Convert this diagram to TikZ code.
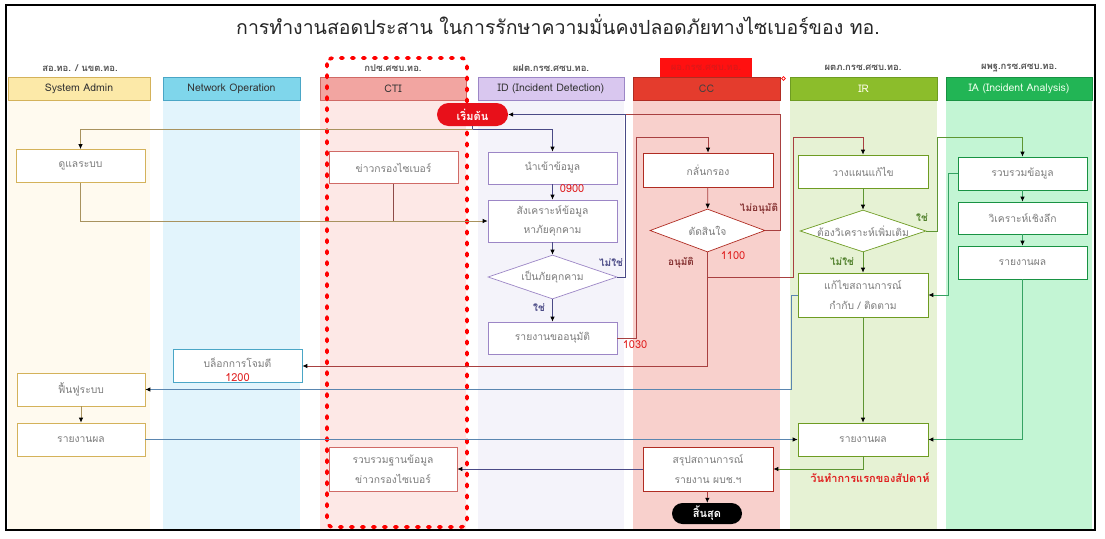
\documentclass[tikz,border=0pt]{standalone}
\usepackage{fontspec}
\setmainfont{Loma}[Script=Thai]
\usetikzlibrary{arrows.meta,shapes.geometric,shapes.misc,calc}

% lane colours: background, header fill, header border, box border, connector
\definecolor{saBg}{HTML}{FFFAEF}\definecolor{saHd}{HTML}{FCE9A8}\definecolor{saBd}{HTML}{D4B25A}\definecolor{saLn}{HTML}{A8925E}
\definecolor{noBg}{HTML}{E2F4FC}\definecolor{noHd}{HTML}{7FD6EB}\definecolor{noBd}{HTML}{4AA6C6}\definecolor{noLn}{HTML}{5A86B0}
\definecolor{ctBg}{HTML}{FDE8E6}\definecolor{ctHd}{HTML}{F2A5A1}\definecolor{ctBd}{HTML}{D06A66}\definecolor{ctLn}{HTML}{8E4A48}
\definecolor{idBg}{HTML}{F4F3FA}\definecolor{idHd}{HTML}{D9C7EF}\definecolor{idBd}{HTML}{9C86C6}\definecolor{idLn}{HTML}{4A4A86}
\definecolor{ccBg}{HTML}{F8D0CC}\definecolor{ccHd}{HTML}{E43C2D}\definecolor{ccBd}{HTML}{B02C22}\definecolor{ccLn}{HTML}{A84040}
\definecolor{irBg}{HTML}{E6F2D4}\definecolor{irHd}{HTML}{8CBD2B}\definecolor{irBd}{HTML}{6E9C22}\definecolor{irLn}{HTML}{5E9632}
\definecolor{iaBg}{HTML}{C3F5D4}\definecolor{iaHd}{HTML}{22B555}\definecolor{iaBd}{HTML}{189243}\definecolor{iaLn}{HTML}{35A263}
\definecolor{boxTxt}{HTML}{7C7C7C}
\definecolor{grpTxt}{HTML}{555555}
\definecolor{numRed}{HTML}{E02020}
\definecolor{startRed}{HTML}{E8101A}

\begin{document}
\begin{tikzpicture}[x=1pt,y=-1pt,
  hdr/.style={rectangle, minimum height=23pt, inner sep=0pt, line width=0.8pt,
    font=\fontsize{10.5}{12}\selectfont},
  grp/.style={font=\bfseries\fontsize{9.5}{11}\selectfont, text=grpTxt},
  box/.style={rectangle, draw, fill=white, line width=0.7pt, inner sep=1pt,
    minimum width=129pt, minimum height=33pt, align=center,
    font=\fontsize{10.3}{19.5}\selectfont, text=boxTxt},
  dia/.style={diamond, draw, fill=white, line width=0.7pt, inner sep=0pt},
  diatxt/.style={font=\fontsize{10.3}{12}\selectfont, text=boxTxt},
  term/.style={rounded rectangle, inner sep=0pt, font=\bfseries\fontsize{11}{12}\selectfont, text=white},
  yn/.style={font=\bfseries\fontsize{10}{12}\selectfont},
  num/.style={font=\fontsize{11}{12}\selectfont, text=numRed},
  conn/.style={line width=0.75pt},
  arr/.style={conn, -{Latex[length=5pt,width=4.5pt,color=black]}},
]
\useasboundingbox (0,0) rectangle (1105,538);
\fill[white] (0,0) rectangle (1105,538);

% ---- title
\node[font=\fontsize{19.5}{22}\selectfont, text=black!85] (title) at (558,25)
  {การทำงานสอดประสาน ในการรักษาความมั่นคงปลอดภัยทางไซเบอร์ของ ทอ.};

% ---- swimlane backgrounds
\fill[saBg] (8,100) rectangle (150,530);
\fill[noBg] (163,100) rectangle (300,530);
\fill[ctBg] (320,100) rectangle (466,530);
\fill[idBg] (478,100) rectangle (624,530);
\fill[ccBg] (633,100) rectangle (780,530);
\fill[irBg] (790,100) rectangle (937,530);
\fill[iaBg] (946,100) rectangle (1092,530);

% ---- swimlane headers
\node[hdr, fill=saHd, draw=saBd, minimum width=142pt, text=black!80] (hSA) at (79,89) {System Admin};
\node[hdr, fill=noHd, draw=noBd, minimum width=137pt, text=black!80] (hNO) at (231.5,89) {Network Operation};
\node[hdr, fill=ctHd, draw=ctBd, minimum width=146pt, text=black!80] (hCT) at (393,89) {CTI};
\node[hdr, fill=idHd, draw=idBd, minimum width=146pt, text=black!80] (hID) at (551,89) {ID (Incident Detection)};
\node[hdr, fill=ccHd, draw=ccBd, minimum width=147pt, text=black!75] (hCC) at (706.5,89) {CC};
\node[hdr, fill=irHd, draw=irBd, minimum width=147pt, text=white!92!yellow] (hIR) at (863.5,89) {IR};
\node[hdr, fill=iaHd, draw=iaBd, minimum width=146pt, text=white!92!green] (hIA) at (1019,89) {IA (Incident Analysis)};
\draw[red, line width=0.7pt] (783.5,78.5) circle (1.8);

% ---- unit labels above the headers
\node[grp] (gSA) at (80,68) {สอ.ทอ. / นขต.ทอ.};
\node[grp] (gCT) at (393,68) {กปซ.ศซบ.ทอ.};
\node[grp] (gID) at (551,68) {ผฝต.กรซ.ศซบ.ทอ.};
\node[grp, fill={rgb,255:red,255;green,16;blue,16}, text={rgb,255:red,222;green,24;blue,24},
  minimum width=92pt, minimum height=19pt, inner sep=0pt] (gCC) at (706,67.5) {ผอ.กรซ.ศซบ.ทอ.};
\node[grp] (gIR) at (863,68) {ผตภ.กรซ.ศซบ.ทอ.};
\node[grp] (gIA) at (1019,68) {ผพฐ.กรซ.ศซบ.ทอ.};

% ---- dotted frame around the CTI lane
\draw[red, line width=3.6pt, line cap=round, dash pattern=on 2.5pt off 8.5pt, rounded corners=6pt]
  (327,58) rectangle (467,527);

% ---- process boxes
\node[box, draw=saBd] (sa1) at (80.5,166) {ดูแลระบบ};
\node[box, draw=saBd, minimum width=128pt] (sa2) at (81,389.5) {ฟื้นฟูระบบ};
\node[box, draw=saBd, minimum width=128pt] (sa3) at (81,439.5) {รายงานผล};

\node[box, draw=noBd, text depth=6pt] (no1) at (237.5,366) {บล็อกการโจมตี};
\node[num] (n1200) at (237.5,378) {1200};

\node[box, draw=ctBd, minimum height=32pt] (ct1) at (393.5,167.5) {ข่าวกรองไซเบอร์};
\node[box, draw=ctBd, minimum width=128pt, minimum height=44pt] (ct2) at (393,469) {รวบรวมฐานข้อมูล\\ข่าวกรองไซเบอร์};

\node[term, fill=startRed, minimum width=71pt, minimum height=23pt] (start) at (472.5,114.5) {เริ่มต้น};
\node[box, draw=idBd, minimum height=32pt] (id1) at (552.5,168) {นำเข้าข้อมูล};
\node[box, draw=idBd, minimum height=42pt] (id2) at (552.5,221) {สังเคราะห์ข้อมูล\\หาภัยคุกคาม};
\node[dia, draw=idBd, minimum width=129pt, minimum height=44pt] (id3) at (552.5,277) {};
\node[diatxt] (id3t) at (id3.center) {เป็นภัยคุกคาม};
\node[box, draw=idBd, minimum height=32pt] (id4) at (552.5,338) {รายงานขออนุมัติ};

\node[box, draw=ccBd, minimum width=130pt, minimum height=34pt] (cc1) at (708,170) {กลั่นกรอง};
\node[dia, draw=ccBd, minimum width=115pt, minimum height=43pt] (cc2) at (707.5,230.5) {};
\node[diatxt] (cc2t) at (cc2.center) {ตัดสินใจ};
\node[box, draw=ccBd, minimum width=130pt, minimum height=44pt] (cc3) at (708,469) {สรุปสถานการณ์\\รายงาน ผบช.ฯ};
\node[term, fill=black, minimum width=70pt, minimum height=21pt] (end) at (707,513.5) {สิ้นสุด};

\node[box, draw=irBd, minimum width=130pt] (ir1) at (863,171.5) {วางแผนแก้ไข};
\node[dia, draw=irBd, minimum width=126pt, minimum height=42pt] (ir2) at (863,231) {};
\node[diatxt] (ir2t) at (ir2.center) {ต้องวิเคราะห์เพิ่มเติม};
\node[box, draw=irBd, minimum width=130pt, minimum height=44pt] (ir3) at (863,295) {แก้ไขสถานการณ์\\กำกับ / ติดตาม};
\node[box, draw=irBd, minimum width=130pt] (ir4) at (863,439.5) {รายงานผล};

\node[box, draw=iaBd] (ia1) at (1022.5,173.5) {รวบรวมข้อมูล};
\node[box, draw=iaBd, minimum height=32pt] (ia2) at (1022.5,218) {วิเคราะห์เชิงลึก};
\node[box, draw=iaBd] (ia3) at (1022.5,262.5) {รายงานผล};

% ---- bends of the connectors
\coordinate (j0) at (472.5,129);
\coordinate (j1) at (625,114.5);
\coordinate (k1) at (636,137);
\coordinate (k2) at (707.5,277);
\coordinate (k3) at (793,137);
\coordinate (k4) at (937,137);
\coordinate (k5) at (948,295);
\coordinate (k6) at (791,389.5);

% ---- connectors
\draw[conn, idLn] (start.south) -- (j0);
\draw[arr, saLn] (j0) -| (sa1.north);
\draw[arr, idLn] (j0) -| (id1.north);
\draw[arr, saLn] (sa1.south) |- (id2.west);
\draw[conn, ctLn] (ct1.south) -- (ct1.south |- id2.west);
\draw[arr, idLn] (id1) -- (id2);
\draw[arr, idLn] (id2) -- (id3);
\draw[arr, idLn] (id3) -- (id4);
\draw[conn, ccLn] (cc2.east) -- ++(15,0) |- (j1);
\draw[arr, idLn] (id3.east) -| (j1) -- (start.east);
\draw[arr, ccLn] (id4.east) -| (k1) -| (cc1.north);
\draw[arr, ccLn] (cc1) -- (cc2);
\draw[arr, ccLn] (cc2.south) |- (no1.east);
\draw[arr, ccLn] (k2) -| (k3) -| (ir1.north);
\draw[arr, irLn] (ir1) -- (ir2);
\draw[arr, irLn] (ir2) -- (ir3);
\draw[arr, irLn] (ir2.east) -| (k4) -| (ia1.north);
\draw[arr, iaLn] (ia1) -- (ia2);
\draw[arr, iaLn] (ia2) -- (ia3);
\draw[arr, iaLn] (ia1.west) -| (k5) -- (ir3.east);
\draw[arr, iaLn] (ia3.south) |- (ir4.east);
\draw[arr, irLn] (ir3) -- (ir4);
\draw[arr, noLn] (ir3.west) -| (k6) -- (sa2.east);
\draw[arr, saLn] (sa2) -- (sa3);
\draw[arr, noLn] (sa3.east) -- (ir4.west);
\draw[arr, irLn] (ir4.south) |- (cc3.east);
\draw[arr, idLn] (cc3.west) -- (ct2.east);
\draw[arr, ccLn] (cc3) -- (end);

% ---- decision and time labels
\node[yn, text=idLn] (l1) at (611,263) {ไม่ใช่};
\node[yn, text=idLn] (l2) at (539,308) {ใช่};
\node[num] (n0900) at (572,189) {0900};
\node[num] (n1030) at (635,345) {1030};
\node[yn, text=ccLn!80!black] (l3) at (759,209) {ไม่อนุมัติ};
\node[yn, text=ccLn!80!black] (l4) at (681,263) {อนุมัติ};
\node[num] (n1100) at (733,256) {1100};
\node[yn, text=irLn!85!black] (l5) at (922,218) {ใช่};
\node[yn, text=irLn!85!black] (l6) at (842,262) {ไม่ใช่};
\node[num, font=\bfseries\fontsize{11}{12}\selectfont] (day1) at (870,478) {วันทำการแรกของสัปดาห์};

% ---- outer frame
\draw[black, line width=2.6pt] (6,5) rectangle (1095,530);
\end{tikzpicture}
\end{document}
